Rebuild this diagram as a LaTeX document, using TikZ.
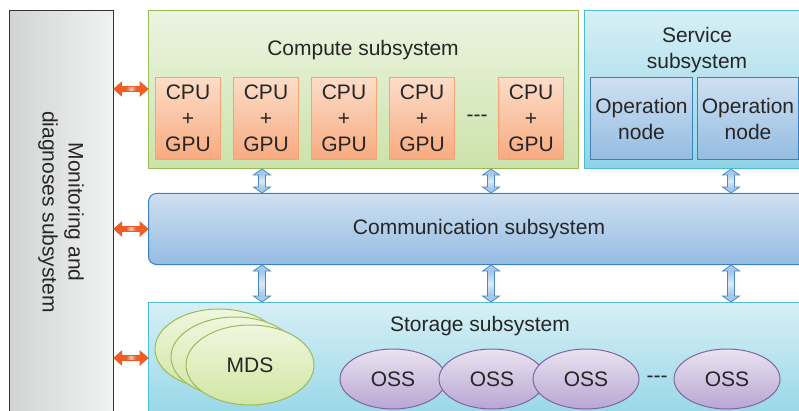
\documentclass[tikz,border=0pt]{standalone}
\usepackage{fontspec}
\setmainfont{Liberation Sans}
\usetikzlibrary{calc, positioning, shapes.geometric}

\definecolor{txtgray}{HTML}{262626}
\definecolor{monleft}{HTML}{D2D3D3}
\definecolor{monright}{HTML}{F1F2F2}
\definecolor{greenline}{HTML}{9BBB59}
\definecolor{greentop}{HTML}{ECF4E2}
\definecolor{greenbot}{HTML}{CCE2AA}
\definecolor{peachline}{HTML}{F6A474}
\definecolor{peachtop}{HTML}{FCDDC8}
\definecolor{peachbot}{HTML}{F8AA80}
\definecolor{cyanline}{HTML}{4BBCD4}
\definecolor{cyantop}{HTML}{D7EFF6}
\definecolor{cyanbot}{HTML}{8ED4E6}
\definecolor{blueline}{HTML}{3C80BE}
\definecolor{bluetop}{HTML}{CFE0F1}
\definecolor{bluebot}{HTML}{94BCE2}
\definecolor{mdstop}{HTML}{F0F6DE}
\definecolor{mdsbot}{HTML}{D2E6A4}
\definecolor{ossline}{HTML}{8064A2}
\definecolor{osstop}{HTML}{EAE3F1}
\definecolor{ossbot}{HTML}{B8A6D3}
\definecolor{arrowred}{HTML}{EF5A22}
\definecolor{arrowfill}{HTML}{EE5F28}
\definecolor{arrowlight}{HTML}{F9C8B4}
\definecolor{arrowblue}{HTML}{4A8AC4}
\definecolor{arrowbluefill}{HTML}{A6C9E9}
\definecolor{arrowbluelight}{HTML}{DCEAF7}

% solid arrow colour with a thin light band along its middle
\pgfdeclarehorizontalshading{orangeband}{100bp}{color(0bp)=(arrowfill); color(43bp)=(arrowfill);
  color(50bp)=(arrowlight); color(57bp)=(arrowfill); color(100bp)=(arrowfill)}
\pgfdeclarehorizontalshading{blueband}{100bp}{color(0bp)=(arrowbluefill); color(35bp)=(arrowbluefill);
  color(50bp)=(arrowbluelight); color(65bp)=(arrowbluefill); color(100bp)=(arrowbluefill)}

\tikzset{
  % fat double arrow drawn from start point to target point
  block arrow/.style n args={3}{to path={
    (\tikztostart) coordinate (ba-s) (\tikztotarget) coordinate (ba-t)
    ($(ba-s)!#1!(ba-t)$) coordinate (ba-p)
    ($(ba-t)!#1!(ba-s)$) coordinate (ba-q)
    (ba-s) -- ($(ba-p)!#2!90:(ba-t)$) -- ($(ba-p)!#3!90:(ba-t)$)
    -- ($(ba-q)!#3!-90:(ba-s)$) -- ($(ba-q)!#2!-90:(ba-s)$) -- (ba-t)
    -- ($(ba-q)!#2!90:(ba-s)$) -- ($(ba-q)!#3!90:(ba-s)$)
    -- ($(ba-p)!#3!-90:(ba-t)$) -- ($(ba-p)!#2!-90:(ba-t)$) -- cycle}},
  orangearrow/.style={block arrow={8pt}{7pt}{2.5pt}, draw=arrowred, line width=0.8pt,
    shade, shading=orangeband, shading angle=0},
  bluearrow/.style={block arrow={6pt}{8.5pt}{3.5pt}, draw=arrowblue, line width=0.8pt,
    shade, shading=blueband, shading angle=90},
  box/.style={draw, line width=1pt, inner sep=0pt, anchor=north west},
  monbox/.style={box, draw=black!80, line width=0.8pt, left color=monleft, right color=monright},
  computebox/.style={box, draw=greenline, top color=greentop, bottom color=greenbot},
  cpubox/.style={box, draw=peachline, top color=peachtop, bottom color=peachbot,
    minimum width=65, minimum height=82, align=center},
  servicebox/.style={box, draw=cyanline, top color=cyantop, bottom color=cyanbot},
  opbox/.style={box, draw=blueline, top color=bluetop, bottom color=bluebot,
    minimum height=82, align=center},
  commbox/.style={box, draw=blueline, rounded corners=8pt, top color=bluetop, bottom color=bluebot},
  mdsell/.style={ellipse, draw=greenline, line width=1pt, inner sep=0pt,
    top color=mdstop, bottom color=mdsbot, minimum width=128, minimum height=80},
  ossell/.style={ellipse, draw=ossline, line width=1pt, inner sep=0pt,
    top color=osstop, bottom color=ossbot, minimum width=106, minimum height=60}
}

\begin{document}
\begin{tikzpicture}[x=1pt, y=-1pt,
  every node/.style={font=\fontsize{21}{26}\selectfont, text=txtgray}]

\useasboundingbox (0,0) rectangle (799,411);
\clip (0,0) rectangle (799,411);

% rows of the side arrows, columns of the vertical arrows
\coordinate (r1) at (0,89);
\coordinate (r2) at (0,229);
\coordinate (r3) at (0,358);
\coordinate (c1) at (262,0);
\coordinate (c2) at (491,0);
\coordinate (c3) at (731,0);

% Monitoring and diagnoses subsystem
\node[monbox, minimum width=104, minimum height=420] (mon) at (9,10) {};
\node[rotate=-90, align=center] (montitle) at (61,212) {Monitoring and\\diagnoses subsystem};

% Compute subsystem
\node[computebox, minimum width=430, minimum height=158] (compute) at (148,10) {};
\node (computetitle) at (363,50) {Compute subsystem};
\foreach \x/\n in {155/1, 233/2, 311/3, 389/4, 498/5}
  \node[cpubox] (cpu\n) at (\x,77) {CPU\\+\\GPU};
\node (cpudots) at (477,118) {-{}-{}-};

% Service subsystem
\node[servicebox, minimum width=230, minimum height=158] (service) at (584,10) {};
\node[align=center] (servicetitle) at (697,50) {Service\\subsystem};
\node[opbox, minimum width=102] (op1) at (590,77) {Operation\\node};
\node[opbox, minimum width=101] (op2) at (697,77) {Operation\\node};

% Communication subsystem
\node[commbox, minimum width=680, minimum height=71] (comm) at (148,193) {};
\node (commtitle) at (479,229) {Communication subsystem};

% Storage subsystem
\node[servicebox, minimum width=680, minimum height=130] (storage) at (148,302) {};
\node (storagetitle) at (480,326) {Storage subsystem};
\node[mdsell] (mds3) at (219,349) {};
\node[mdsell] (mds2) at (235,357) {};
\node[mdsell] (mds1) at (250,365) {MDS};
\foreach \x/\n in {393/1, 492/2, 586/3, 727/4}
  \node[ossell] (oss\n) at (\x,379) {OSS};
\node (ossdots) at (657,379) {-{}-{}-};

% links to the monitoring subsystem
\draw[orangearrow] (mon.east |- r1) to (compute.west |- r1);
\draw[orangearrow] (mon.east |- r2) to (comm.west |- r2);
\draw[orangearrow] (mon.east |- r3) to (storage.west |- r3);

% links through the communication subsystem
\draw[bluearrow] (compute.south -| c1) to (comm.north -| c1);
\draw[bluearrow] (compute.south -| c2) to (comm.north -| c2);
\draw[bluearrow] (service.south -| c3) to (comm.north -| c3);
\foreach \c in {c1, c2, c3}
  \draw[bluearrow] (comm.south -| \c) to (storage.north -| \c);

\end{tikzpicture}
\end{document}
